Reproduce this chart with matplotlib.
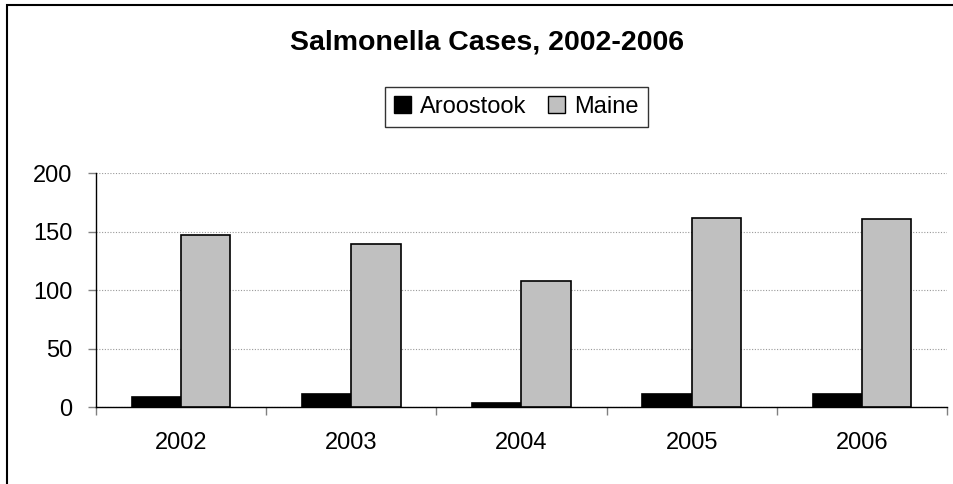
import matplotlib.pyplot as plt
import numpy as np
from matplotlib.patches import Rectangle, Patch

years = ["2002", "2003", "2004", "2005", "2006"]
aroostook = [9, 11, 4, 11, 11]
maine = [147, 140, 108, 162, 161]
yticks = [0, 50, 100, 150, 200]

plt.rcParams['font.family'] = ['Liberation Sans', 'DejaVu Sans']

W, H = 954, 484
fig = plt.figure(figsize=(W / 100, H / 100), dpi=100)

# outer chart border (only left and top visible)
fig.patches.append(Rectangle((7 / W, -0.1), 1.2, 1 - 5 / H + 0.1, transform=fig.transFigure,
                             fill=False, edgecolor='black', linewidth=1.5))

ax = fig.add_axes([96 / W, (H - 407.3) / H, (947 - 96) / W, (407.3 - 173.3) / H])

x = np.arange(len(years))
w = 0.29
ax.bar(x - w / 2, aroostook, w, color='black', edgecolor='black', linewidth=1.2, zorder=3)
ax.bar(x + w / 2, maine, w, color='#C0C0C0', edgecolor='black', linewidth=1.2, zorder=3)

ax.set_xlim(-0.5, len(years) - 0.5)
ax.set_ylim(0, 200)
ax.set_yticks(yticks)
ax.set_xticks(x)
ax.set_xticklabels(years)
ax.set_xticks(np.arange(len(years) + 1) - 0.5, minor=True)
ax.tick_params(axis='x', which='major', length=0, pad=18, labelsize=17)
ax.tick_params(axis='x', which='minor', length=5.8, width=1, color='#808080')
ax.tick_params(axis='y', length=5.8, width=1, color='#808080', pad=11, labelsize=17)
ax.yaxis.grid(True, linestyle=(0, (1, 1.5)), color='#999999', linewidth=0.8, zorder=0)

for s in ['top', 'right']:
    ax.spines[s].set_visible(False)
for s in ['left', 'bottom']:
    ax.spines[s].set_color('black')
    ax.spines[s].set_linewidth(1)

fig.text(487 / W, 1 - 43 / H, "Salmonella Cases, 2002-2006", ha='center', va='center',
         fontsize=20.5, fontweight='bold')

handles = [Patch(facecolor='black', edgecolor='black'),
           Patch(facecolor='#C0C0C0', edgecolor='black')]
fig.legend(handles, ["Aroostook", "Maine"], loc='center', ncol=2,
           bbox_to_anchor=(516.5 / W, 1 - 107 / H), frameon=True, fancybox=False,
           edgecolor='black', fontsize=17, handlelength=0.7, handleheight=0.7,
           handletextpad=0.4, columnspacing=0.9, borderpad=0.4).get_frame().set_linewidth(1)

fig.savefig("out.png", dpi=100)
